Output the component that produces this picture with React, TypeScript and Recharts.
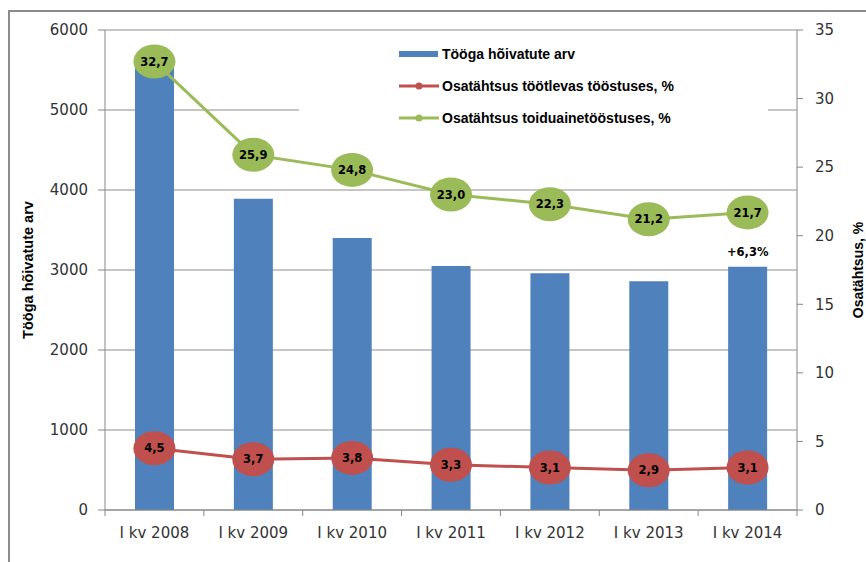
import React from 'react';
import { ComposedChart, Bar, Line, XAxis, YAxis, CartesianGrid, Legend, LabelList } from 'recharts';

const categories = ['I kv 2008', 'I kv 2009', 'I kv 2010', 'I kv 2011', 'I kv 2012', 'I kv 2013', 'I kv 2014'];
const employed = [5620, 3890, 3400, 3050, 2960, 2860, 3040];
const shareManufacturing = [4.5, 3.7, 3.8, 3.3, 3.1, 2.9, 3.1];
const shareFood = [32.7, 25.9, 24.8, 23.0, 22.3, 21.2, 21.7];
const barNotes = ['', '', '', '', '', '', '+6,3%'];
const leftTicks = [0, 1000, 2000, 3000, 4000, 5000, 6000];
const rightTicks = [0, 5, 10, 15, 20, 25, 30, 35];
const seriesNames = ['Tööga hõivatute arv', 'Osatähtsus töötlevas tööstuses, %', 'Osatähtsus toiduainetööstuses, %'];
const leftTitle = 'Tööga hõivatute arv';
const rightTitle = 'Osatähtsus, %';

const BLUE = '#4F81BD';
const RED = '#C0504D';
const GREEN = '#9BBB59';
const AXIS = '#868686';
const TEXT = '#333333';

const data = categories.map((cat, i) => ({
  cat,
  employed: employed[i],
  manuf: shareManufacturing[i],
  food: shareFood[i],
  note: barNotes[i],
}));

const fmt = (v: number) => v.toFixed(1).replace('.', ',');

const makeDot = (color: string, key: string) => (props: any) => {
  const { cx, cy, index, payload } = props;
  if (cx == null || cy == null) return <g key={`d-${key}-${index}`} />;
  return (
    <g key={`d-${key}-${index}`}>
      <ellipse cx={cx} cy={cy} rx={21} ry={17} fill={color} />
      <text
        x={cx}
        y={cy}
        dy="0.36em"
        textAnchor="middle"
        fontFamily="DejaVu Sans"
        fontWeight="bold"
        fontSize={11.5}
        fill="#000"
      >
        {fmt(payload[key])}
      </text>
    </g>
  );
};

const XTick = (props: any) => {
  const { x, y, payload, index, visibleTicksCount } = props;
  const half = payload && payload.offset ? payload.offset : 49.4;
  const axisY = y - 17;
  const last = index === (visibleTicksCount ?? categories.length) - 1;
  return (
    <g>
      <line x1={x - half} x2={x - half} y1={axisY} y2={axisY + 6} stroke={AXIS} strokeWidth={1} />
      {last && <line x1={x + half} x2={x + half} y1={axisY} y2={axisY + 6} stroke={AXIS} strokeWidth={1} />}
      <text x={x} y={y} dy="0.71em" textAnchor="middle" fontFamily="DejaVu Sans" fontSize={15} fill={TEXT}>
        {payload.value}
      </text>
    </g>
  );
};

const LegendContent = () => {
  const rows = [18, 50, 82];
  return (
    <svg width={469} height={104} style={{ display: 'block' }}>
      <rect x={100} y={rows[0] - 3} width={39} height={6} fill={BLUE} />
      <line x1={100} x2={140} y1={rows[1]} y2={rows[1]} stroke={RED} strokeWidth={3} />
      <circle cx={120} cy={rows[1]} r={3.5} fill={RED} />
      <line x1={100} x2={140} y1={rows[2]} y2={rows[2]} stroke={GREEN} strokeWidth={3} />
      <circle cx={120} cy={rows[2]} r={3.5} fill={GREEN} />
      {seriesNames.map((n, i) => (
        <text
          key={n}
          x={143}
          y={rows[i]}
          dy="0.35em"
          fontFamily="Liberation Sans"
          fontWeight="bold"
          fontSize={14}
          fill="#000"
        >
          {n}
        </text>
      ))}
    </svg>
  );
};

export default function App() {
  return (
    <div style={{ position: 'absolute', left: 0, top: 0, width: 866, height: 562, overflow: 'hidden', background: '#fff' }}>
      <div
        style={{
          position: 'absolute',
          left: 8,
          top: 10,
          width: 900,
          height: 600,
          borderTop: '2px solid #8c8c8c',
          borderLeft: '2px solid #8c8c8c',
          boxSizing: 'border-box',
        }}
      />
      <div style={{ position: 'absolute', left: 0, top: 0 }}>
        <ComposedChart
          width={866}
          height={562}
          data={data}
          margin={{ top: 30, right: 0, left: 0, bottom: 22 }}
        >
          <CartesianGrid yAxisId="left" vertical={false} stroke="#8c8c8c" strokeWidth={1} />
          <XAxis
            dataKey="cat"
            height={30}
            tickLine={false}
            tickSize={6}
            tickMargin={11}
            axisLine={{ stroke: AXIS }}
            tick={<XTick />}
            interval={0}
          />
          <YAxis
            yAxisId="left"
            width={105}
            domain={[0, 6000]}
            ticks={leftTicks}
            interval={0}
            tickSize={7}
            tickMargin={10}
            axisLine={{ stroke: AXIS }}
            tickLine={{ stroke: AXIS }}
            tick={{ fill: TEXT, fontSize: 15, fontFamily: 'DejaVu Sans' }}
            label={{
              value: leftTitle,
              angle: -90,
              position: 'insideLeft',
              offset: 28,
              style: { textAnchor: 'middle', fontFamily: 'Liberation Sans', fontWeight: 'bold', fontSize: 14.5, fill: '#000' },
            }}
          />
          <YAxis
            yAxisId="right"
            orientation="right"
            width={69}
            domain={[0, 35]}
            ticks={rightTicks}
            interval={0}
            tickSize={6}
            tickMargin={12}
            axisLine={{ stroke: AXIS }}
            tickLine={{ stroke: AXIS }}
            tick={{ fill: TEXT, fontSize: 15, fontFamily: 'DejaVu Sans' }}
            label={{
              value: rightTitle,
              angle: -90,
              position: 'insideRight',
              offset: 8,
              style: { textAnchor: 'middle', fontFamily: 'Liberation Sans', fontWeight: 'bold', fontSize: 14, fill: '#000' },
            }}
          />
          <Legend
            layout="horizontal"
            verticalAlign="middle"
            align="center"
            content={<LegendContent />}
            wrapperStyle={{ position: 'absolute', left: 299, top: 36, width: 469, height: 104, background: '#fff' }}
          />
          <Bar yAxisId="left" dataKey="employed" name={seriesNames[0]} fill={BLUE} barSize={39} isAnimationActive={false}>
            <LabelList
              dataKey="note"
              position="top"
              offset={11}
              style={{ fontFamily: 'DejaVu Sans', fontWeight: 'bold', fontSize: 11.5, fill: '#000' }}
            />
          </Bar>
          <Line
            yAxisId="right"
            dataKey="manuf"
            name={seriesNames[1]}
            stroke={RED}
            strokeWidth={3}
            dot={makeDot(RED, 'manuf')}
            activeDot={false}
            isAnimationActive={false}
          />
          <Line
            yAxisId="right"
            dataKey="food"
            name={seriesNames[2]}
            stroke={GREEN}
            strokeWidth={3}
            dot={makeDot(GREEN, 'food')}
            activeDot={false}
            isAnimationActive={false}
          />
        </ComposedChart>
      </div>
    </div>
  );
}
